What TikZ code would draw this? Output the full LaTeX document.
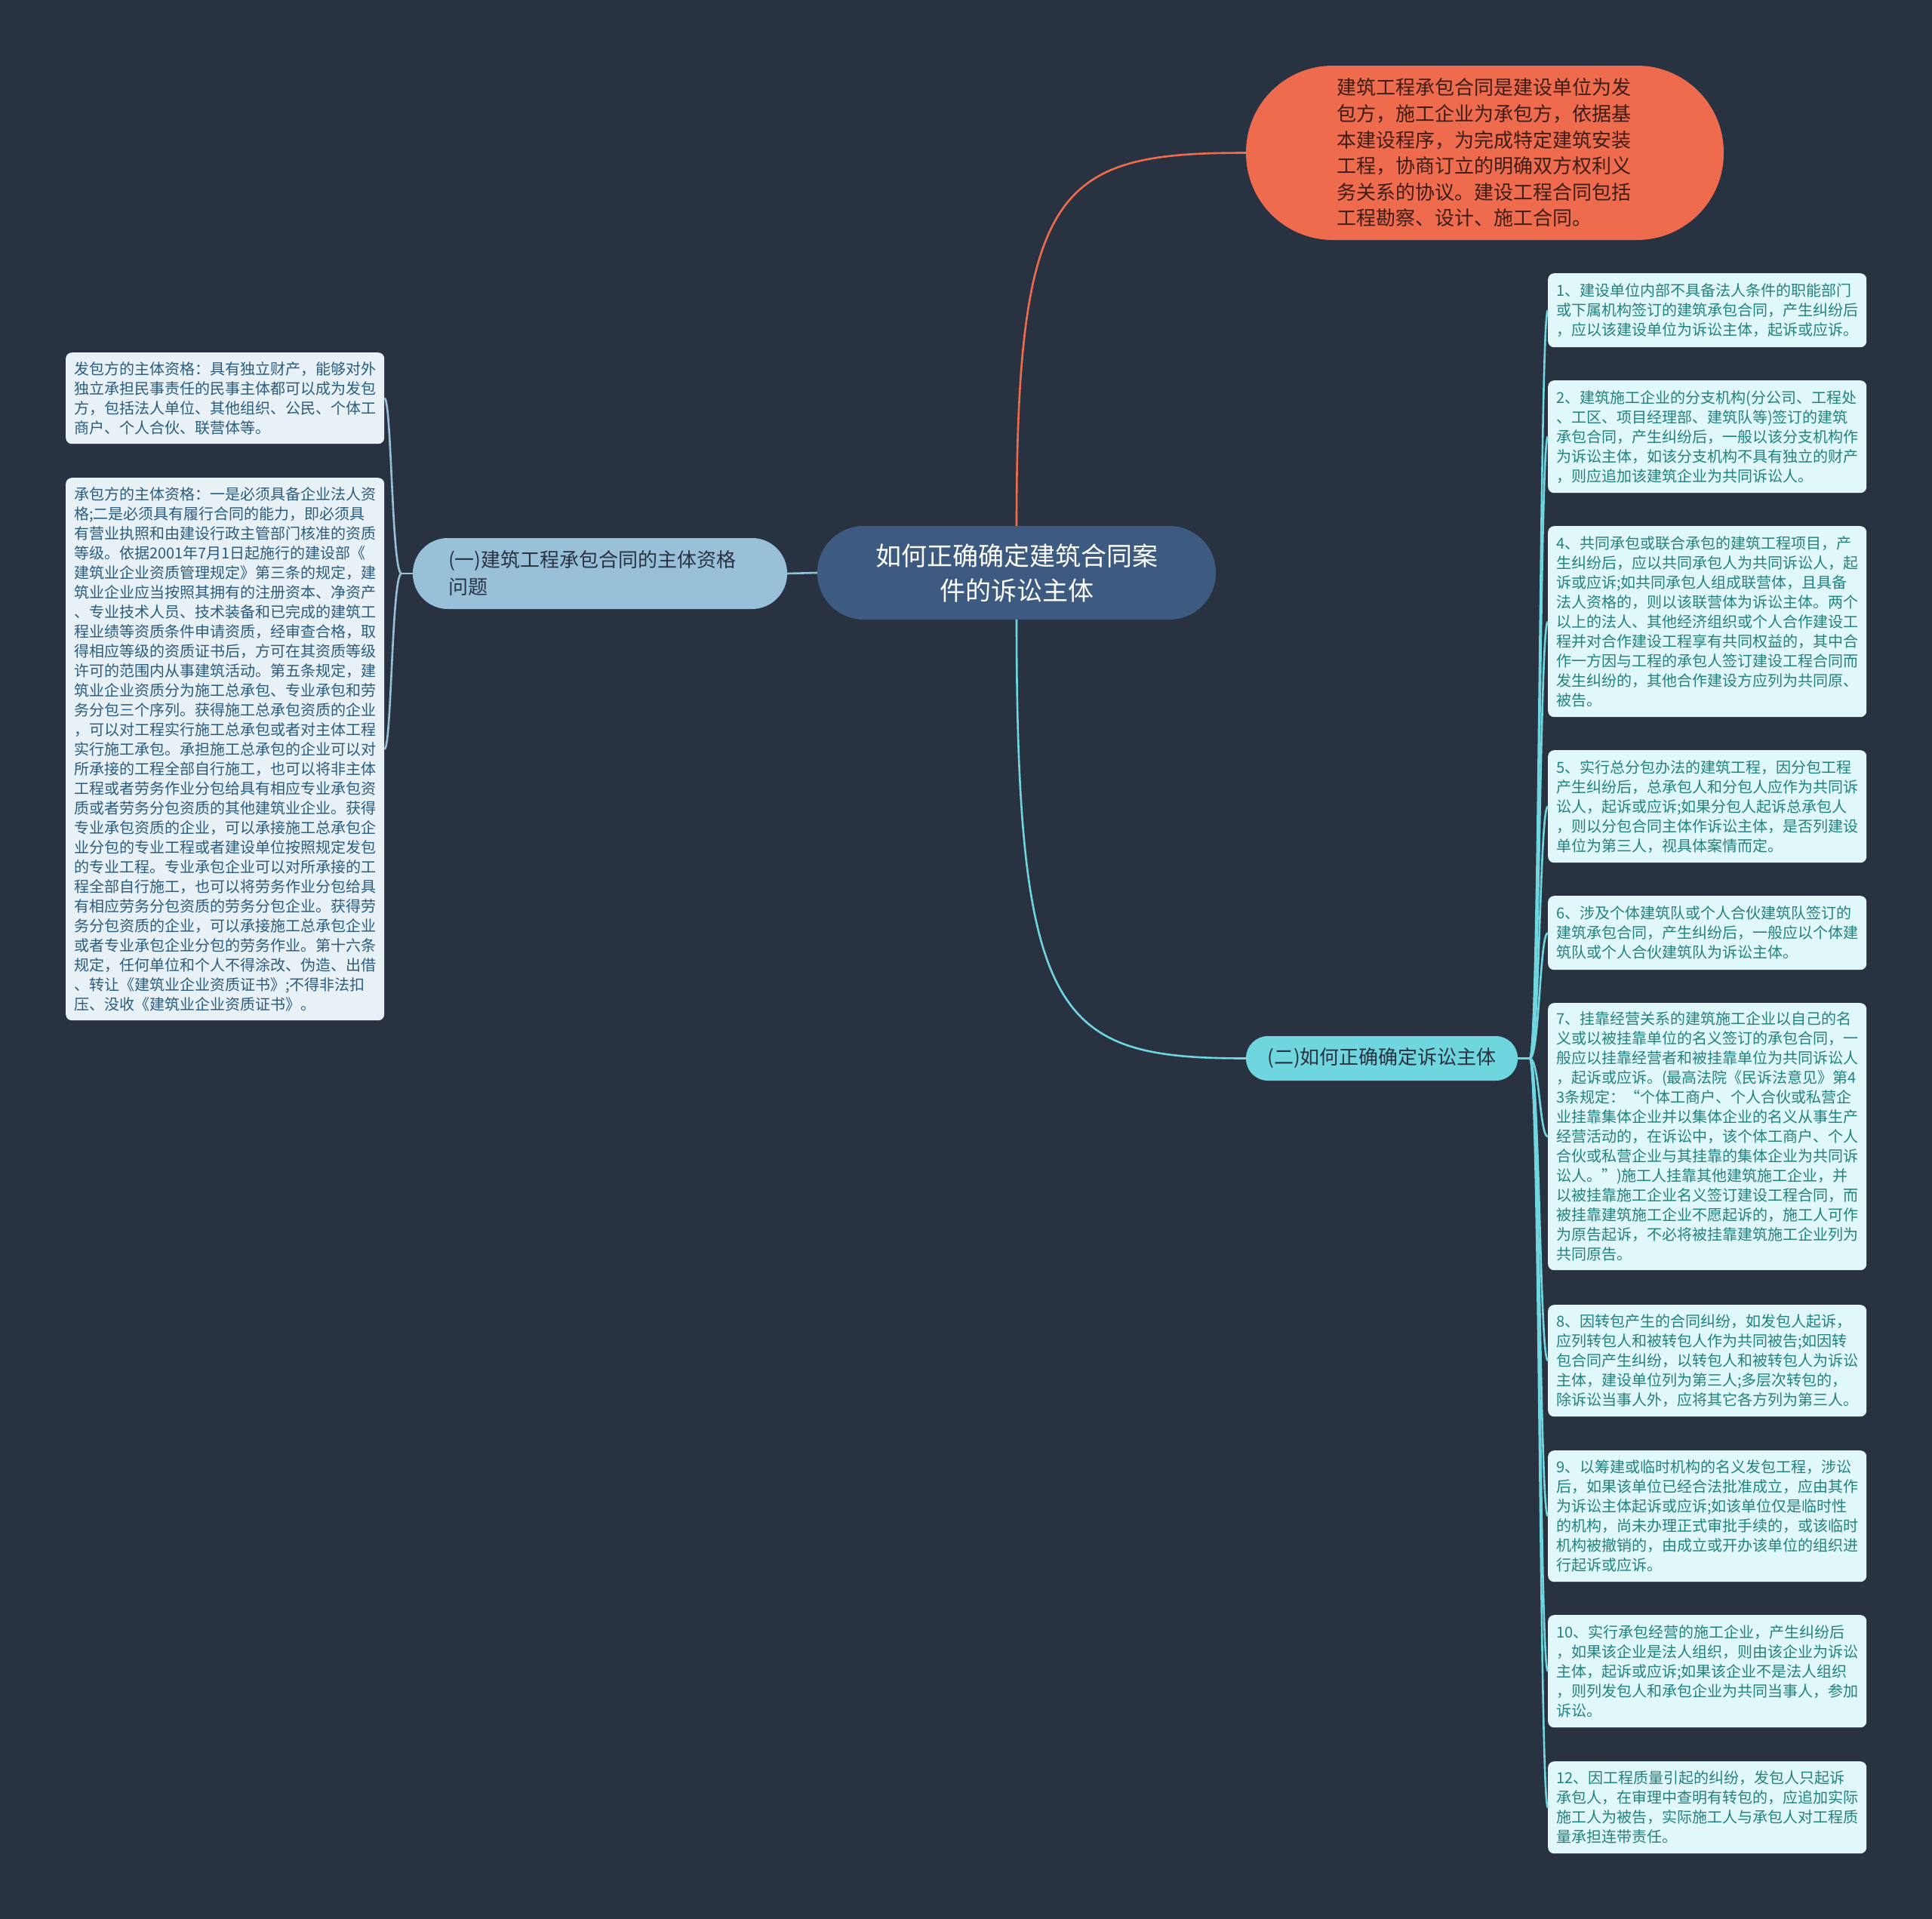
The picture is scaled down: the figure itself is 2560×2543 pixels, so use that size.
\documentclass[tikz,border=0pt]{standalone}
\usepackage{fontspec}
\setmainfont{Noto Sans CJK SC}
\definecolor{bgc}{HTML}{293241}
\definecolor{rootc}{HTML}{3D5A80}
\definecolor{lbc}{HTML}{98C1D9}
\definecolor{orc}{HTML}{EE6C4D}
\definecolor{orText}{HTML}{3E1D16}
\definecolor{rbc}{HTML}{6FD5DE}
\definecolor{darkText}{HTML}{293241}
\definecolor{leafRfill}{HTML}{E0F8F9}
\definecolor{leafRtext}{HTML}{23817F}
\definecolor{leafLfill}{HTML}{E8F1F6}
\definecolor{leafLtext}{HTML}{2B5C7E}
\begin{document}
\begin{tikzpicture}[x=1pt,y=-1pt,
  leafR/.style={rectangle, rounded corners=8pt, fill=leafRfill, text=leafRtext,
    font=\fontsize{20}{26}\selectfont, align=left, text width=400pt,
    inner xsep=11pt, inner ysep=0pt, anchor=north west},
  leafL/.style={rectangle, rounded corners=8pt, fill=leafLfill, text=leafLtext,
    font=\fontsize{20}{26}\selectfont, align=left, text width=400pt,
    inner xsep=11pt, inner ysep=0pt, anchor=north west},
  rline/.style={draw=rbc, line width=2.6pt},
  lline/.style={draw=lbc, line width=2.6pt},
  oline/.style={draw=orc, line width=2.6pt}]
\fill[bgc] (0,0) rectangle (2560,2543);
\useasboundingbox (0,0) rectangle (2560,2543);

% central
\node[fill=rootc, rounded corners=61.5pt, minimum width=528pt, minimum height=124pt,
  inner sep=0pt, text=white, font=\fontsize{34}{46}\selectfont, align=center]
  (root) at (1347,759) {如何正确确定建筑合同案\\件的诉讼主体};

% top orange
\node[fill=orc, rounded corners=115pt, minimum width=633pt, minimum height=231pt,
  inner sep=0pt, text=orText, font=\fontsize{26}{34.6}\selectfont, align=left, text width=392pt]
  (top) at (1967.5,202.5) {建筑工程承包合同是建设单位为发\\包方，施工企业为承包方，依据基\\本建设程序，为完成特定建筑安装\\工程，协商订立的明确双方权利义\\务关系的协议。建设工程合同包括\\工程勘察、设计、施工合同。};

% left branch
\node[fill=lbc, rounded corners=46.5pt, minimum width=496pt, minimum height=94pt,
  inner sep=0pt, text=darkText, font=\fontsize{26}{36}\selectfont, align=left, text width=402pt]
  (lb) at (795,760) {(一)建筑工程承包合同的主体资格\\问题};

% right branch
\node[fill=rbc, rounded corners=29pt, minimum width=360pt, minimum height=59pt,
  inner sep=0pt, text=darkText, font=\fontsize{26}{34}\selectfont]
  (rb) at (1831,1402.5) {(二)如何正确确定诉讼主体};

% left leaves
\node[leafL, minimum height=121pt] (l1) at (87,467) {发包方的主体资格：具有独立财产，能够对外\\独立承担民事责任的民事主体都可以成为发包\\方，包括法人单位、其他组织、公民、个体工\\商户、个人合伙、联营体等。};
\node[leafL, minimum height=719pt] (l2) at (87,633) {承包方的主体资格：一是必须具备企业法人资\\格;二是必须具有履行合同的能力，即必须具\\有营业执照和由建设行政主管部门核准的资质\\等级。依据2001年7月1日起施行的建设部《\\建筑业企业资质管理规定》第三条的规定，建\\筑业企业应当按照其拥有的注册资本、净资产\\、专业技术人员、技术装备和已完成的建筑工\\程业绩等资质条件申请资质，经审查合格，取\\得相应等级的资质证书后，方可在其资质等级\\许可的范围内从事建筑活动。第五条规定，建\\筑业企业资质分为施工总承包、专业承包和劳\\务分包三个序列。获得施工总承包资质的企业\\，可以对工程实行施工总承包或者对主体工程\\实行施工承包。承担施工总承包的企业可以对\\所承接的工程全部自行施工，也可以将非主体\\工程或者劳务作业分包给具有相应专业承包资\\质或者劳务分包资质的其他建筑业企业。获得\\专业承包资质的企业，可以承接施工总承包企\\业分包的专业工程或者建设单位按照规定发包\\的专业工程。专业承包企业可以对所承接的工\\程全部自行施工，也可以将劳务作业分包给具\\有相应劳务分包资质的劳务分包企业。获得劳\\务分包资质的企业，可以承接施工总承包企业\\或者专业承包企业分包的劳务作业。第十六条\\规定，任何单位和个人不得涂改、伪造、出借\\、转让《建筑业企业资质证书》;不得非法扣\\压、没收《建筑业企业资质证书》。};

% right leaves
\node[leafR, minimum height=98pt] (r1) at (2051,362) {1、建设单位内部不具备法人条件的职能部门\\或下属机构签订的建筑承包合同，产生纠纷后\\，应以该建设单位为诉讼主体，起诉或应诉。};
\node[leafR, minimum height=149pt] (r2) at (2051,504) {2、建筑施工企业的分支机构(分公司、工程处\\、工区、项目经理部、建筑队等)签订的建筑\\承包合同，产生纠纷后，一般以该分支机构作\\为诉讼主体，如该分支机构不具有独立的财产\\，则应追加该建筑企业为共同诉讼人。};
\node[leafR, minimum height=253pt] (r4) at (2051,697) {4、共同承包或联合承包的建筑工程项目，产\\生纠纷后，应以共同承包人为共同诉讼人，起\\诉或应诉;如共同承包人组成联营体，且具备\\法人资格的，则以该联营体为诉讼主体。两个\\以上的法人、其他经济组织或个人合作建设工\\程并对合作建设工程享有共同权益的，其中合\\作一方因与工程的承包人签订建设工程合同而\\发生纠纷的，其他合作建设方应列为共同原、\\被告。};
\node[leafR, minimum height=149pt] (r5) at (2051,994) {5、实行总分包办法的建筑工程，因分包工程\\产生纠纷后，总承包人和分包人应作为共同诉\\讼人，起诉或应诉;如果分包人起诉总承包人\\，则以分包合同主体作诉讼主体，是否列建设\\单位为第三人，视具体案情而定。};
\node[leafR, minimum height=98pt] (r6) at (2051,1187) {6、涉及个体建筑队或个人合伙建筑队签订的\\建筑承包合同，产生纠纷后，一般应以个体建\\筑队或个人合伙建筑队为诉讼主体。};
\node[leafR, minimum height=354pt] (r7) at (2051,1329) {7、挂靠经营关系的建筑施工企业以自己的名\\义或以被挂靠单位的名义签订的承包合同，一\\般应以挂靠经营者和被挂靠单位为共同诉讼人\\，起诉或应诉。(最高法院《民诉法意见》第4\\3条规定：“个体工商户、个人合伙或私营企\\业挂靠集体企业并以集体企业的名义从事生产\\经营活动的，在诉讼中，该个体工商户、个人\\合伙或私营企业与其挂靠的集体企业为共同诉\\讼人。”)施工人挂靠其他建筑施工企业，并\\以被挂靠施工企业名义签订建设工程合同，而\\被挂靠建筑施工企业不愿起诉的，施工人可作\\为原告起诉，不必将被挂靠建筑施工企业列为\\共同原告。};
\node[leafR, minimum height=148pt] (r8) at (2051,1729) {8、因转包产生的合同纠纷，如发包人起诉，\\应列转包人和被转包人作为共同被告;如因转\\包合同产生纠纷，以转包人和被转包人为诉讼\\主体，建设单位列为第三人;多层次转包的，\\除诉讼当事人外，应将其它各方列为第三人。};
\node[leafR, minimum height=174pt] (r9) at (2051,1922) {9、以筹建或临时机构的名义发包工程，涉讼\\后，如果该单位已经合法批准成立，应由其作\\为诉讼主体起诉或应诉;如该单位仅是临时性\\的机构，尚未办理正式审批手续的，或该临时\\机构被撤销的，由成立或开办该单位的组织进\\行起诉或应诉。};
\node[leafR, minimum height=149pt] (r10) at (2051,2140) {10、实行承包经营的施工企业，产生纠纷后\\，如果该企业是法人组织，则由该企业为诉讼\\主体，起诉或应诉;如果该企业不是法人组织\\，则列发包人和承包企业为共同当事人，参加\\诉讼。};
\node[leafR, minimum height=122pt] (r12) at (2051,2334) {12、因工程质量引起的纠纷，发包人只起诉\\承包人，在审理中查明有转包的，应追加实际\\施工人为被告，实际施工人与承包人对工程质\\量承担连带责任。};

% connectors root
\draw[oline] (root.north) .. controls (1347,245) and (1402,202.5) .. (top.west);
\draw[rline] (root.south) .. controls (1347,1355) and (1402,1402.5) .. (rb.west);
\draw[lline] (root.west) -- (lb.east);

% left side
\coordinate (lj) at (532,760);
\draw[lline] (lb.west) -- (lj);
\foreach \n in {l1,l2}{
  \draw[lline] (lj) .. controls (519,760) and (519,0 |- \n.east) .. (\n.east);
}

% right side
\coordinate (rj) at (2027,1402.5);
\draw[rline] (rb.east) -- (rj);
\foreach \n in {r1,r2,r4,r5,r6,r7,r8,r9,r10,r12}{
  \draw[rline] (rj) .. controls (2040,1402.5) and (2040,0 |- \n.west) .. (\n.west);
}
\end{tikzpicture}
\end{document}
